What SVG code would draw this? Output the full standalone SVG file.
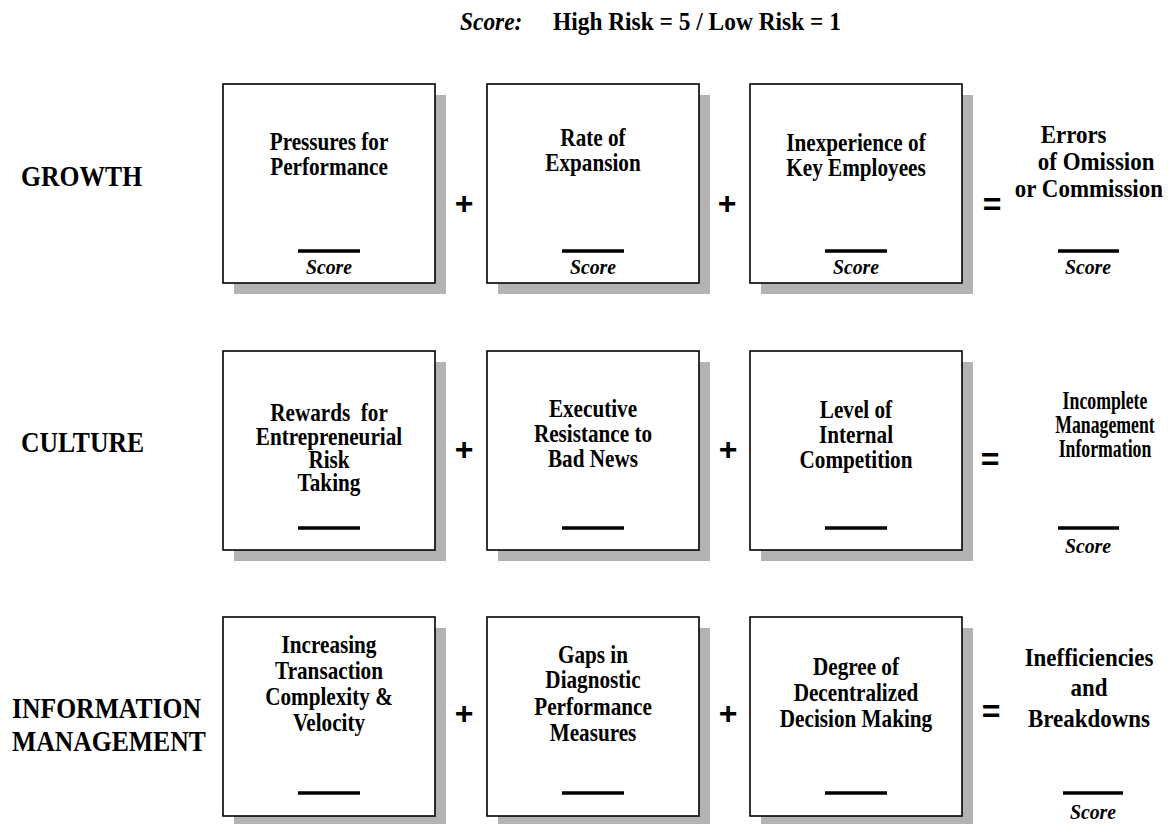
<svg xmlns="http://www.w3.org/2000/svg" width="1174" height="824" viewBox="0 0 1174 824">
  <style>
    .shadow { fill: #b3b3b3; }
    .box { fill: #ffffff; stroke: #000000; stroke-width: 1.6; }
    .rule { stroke: #000000; stroke-width: 3.5; }
    .t { font-family: "Liberation Serif", "Times New Roman", serif; font-weight: bold; fill: #000000; text-anchor: middle; }
    .hd { font-size: 26px; text-anchor: start; }
    .lab { font-size: 28.5px; text-anchor: start; }
    .bt { font-size: 24.5px; }
    .res { font-size: 25.5px; }
    .res2 { font-size: 25px; }
    .sc { font-size: 22px; font-style: italic; }
    .op { font-family: "Liberation Sans", Arial, sans-serif; font-weight: bold; fill: #000000; text-anchor: middle; font-size: 32px; }
  </style>

  <rect width="1174" height="824" fill="#ffffff"/>

  <!-- scale legend -->
  <g id="legend">
    <g transform="translate(460 0) scale(0.9 1)">
      <text class="t hd" x="0" y="30" font-style="italic">Score:</text>
    </g>
    <g transform="translate(553 0) scale(0.9 1)">
      <text class="t hd" x="0" y="30">High Risk = 5 / Low Risk = 1</text>
    </g>
  </g>

  <!-- row labels -->
  <g id="label-growth" transform="translate(21 0) scale(0.9 1)">
    <text class="t lab" x="0" y="186">GROWTH</text>
  </g>
  <g id="label-culture" transform="translate(21 0) scale(0.9 1)">
    <text class="t lab" x="0" y="452">CULTURE</text>
  </g>
  <g id="label-information" transform="translate(12 0) scale(0.9 1)">
    <text class="t lab" x="0" y="718">INFORMATION</text>
    <text class="t lab" x="0" y="751">MANAGEMENT</text>
  </g>

  <!-- ===== GROWTH row ===== -->
  <g id="growth-pressures">
    <rect class="shadow" x="234" y="95" width="212" height="199"/>
    <rect class="box" x="223" y="84" width="212" height="199"/>
    <line class="rule" x1="298" y1="251" x2="360" y2="251"/>
    <g transform="translate(329 0) scale(0.865 1)">
      <text class="t bt" x="0" y="150">Pressures for</text>
      <text class="t bt" x="0" y="175">Performance</text>
    </g>
    <g transform="translate(329 0) scale(0.9 1)">
      <text class="t sc" x="0" y="274">Score</text>
    </g>
  </g>
  <g id="growth-expansion">
    <rect class="shadow" x="498" y="95" width="212" height="199"/>
    <rect class="box" x="487" y="84" width="212" height="199"/>
    <line class="rule" x1="562" y1="251" x2="624" y2="251"/>
    <g transform="translate(593 0) scale(0.865 1)">
      <text class="t bt" x="0" y="146">Rate of</text>
      <text class="t bt" x="0" y="171">Expansion</text>
    </g>
    <g transform="translate(593 0) scale(0.9 1)">
      <text class="t sc" x="0" y="274">Score</text>
    </g>
  </g>
  <g id="growth-inexperience">
    <rect class="shadow" x="761" y="95" width="212" height="199"/>
    <rect class="box" x="750" y="84" width="212" height="199"/>
    <line class="rule" x1="825" y1="251" x2="887" y2="251"/>
    <g transform="translate(856 0) scale(0.865 1)">
      <text class="t bt" x="0" y="151">Inexperience of</text>
      <text class="t bt" x="0" y="176">Key Employees</text>
    </g>
    <g transform="translate(856 0) scale(0.9 1)">
      <text class="t sc" x="0" y="274">Score</text>
    </g>
  </g>
  <g id="growth-result">
    <line class="rule" x1="1058" y1="251" x2="1119" y2="251"/>
    <g transform="translate(1088 0) scale(0.9 1)">
      <text class="t res" x="-16" y="143">Errors</text>
      <text class="t res" x="9" y="170">of Omission</text>
      <text class="t res" x="1" y="197">or Commission</text>
      <text class="t sc" x="0" y="274">Score</text>
    </g>
  </g>

  <!-- ===== CULTURE row ===== -->
  <g id="culture-rewards">
    <rect class="shadow" x="234" y="362" width="212" height="199"/>
    <rect class="box" x="223" y="351" width="212" height="199"/>
    <line class="rule" x1="298" y1="528" x2="360" y2="528"/>
    <g transform="translate(329 0) scale(0.865 1)">
      <text class="t bt" x="0" y="421" xml:space="preserve">Rewards  for</text>
      <text class="t bt" x="0" y="445">Entrepreneurial</text>
      <text class="t bt" x="0" y="468">Risk</text>
      <text class="t bt" x="0" y="491">Taking</text>
    </g>
  </g>
  <g id="culture-resistance">
    <rect class="shadow" x="498" y="362" width="212" height="199"/>
    <rect class="box" x="487" y="351" width="212" height="199"/>
    <line class="rule" x1="562" y1="528" x2="624" y2="528"/>
    <g transform="translate(593 0) scale(0.865 1)">
      <text class="t bt" x="0" y="417">Executive</text>
      <text class="t bt" x="0" y="442">Resistance to</text>
      <text class="t bt" x="0" y="467">Bad News</text>
    </g>
  </g>
  <g id="culture-competition">
    <rect class="shadow" x="761" y="362" width="212" height="199"/>
    <rect class="box" x="750" y="351" width="212" height="199"/>
    <line class="rule" x1="825" y1="528" x2="887" y2="528"/>
    <g transform="translate(856 0) scale(0.865 1)">
      <text class="t bt" x="0" y="418">Level of</text>
      <text class="t bt" x="0" y="443">Internal</text>
      <text class="t bt" x="0" y="468">Competition</text>
    </g>
  </g>
  <g id="culture-result">
    <line class="rule" x1="1058" y1="528" x2="1119" y2="528"/>
    <g transform="translate(1105 0) scale(0.71 1)">
      <text class="t res2" x="0" y="409">Incomplete</text>
      <text class="t res2" x="0" y="433">Management</text>
      <text class="t res2" x="0" y="457">Information</text>
    </g>
    <g transform="translate(1088 0) scale(0.9 1)">
      <text class="t sc" x="0" y="553">Score</text>
    </g>
  </g>

  <!-- ===== INFORMATION MANAGEMENT row ===== -->
  <g id="info-complexity">
    <rect class="shadow" x="234" y="628" width="212" height="199"/>
    <rect class="box" x="223" y="617" width="212" height="199"/>
    <line class="rule" x1="298" y1="793" x2="360" y2="793"/>
    <g transform="translate(329 0) scale(0.865 1)">
      <text class="t bt" x="0" y="653">Increasing</text>
      <text class="t bt" x="0" y="679">Transaction</text>
      <text class="t bt" x="0" y="705">Complexity &amp;</text>
      <text class="t bt" x="0" y="731">Velocity</text>
    </g>
  </g>
  <g id="info-measures">
    <rect class="shadow" x="498" y="628" width="212" height="199"/>
    <rect class="box" x="487" y="617" width="212" height="199"/>
    <line class="rule" x1="562" y1="793" x2="624" y2="793"/>
    <g transform="translate(593 0) scale(0.865 1)">
      <text class="t bt" x="0" y="663">Gaps in</text>
      <text class="t bt" x="0" y="688">Diagnostic</text>
      <text class="t bt" x="0" y="715">Performance</text>
      <text class="t bt" x="0" y="741">Measures</text>
    </g>
  </g>
  <g id="info-decentralized">
    <rect class="shadow" x="761" y="628" width="212" height="199"/>
    <rect class="box" x="750" y="617" width="212" height="199"/>
    <line class="rule" x1="825" y1="793" x2="887" y2="793"/>
    <g transform="translate(856 0) scale(0.865 1)">
      <text class="t bt" x="0" y="675">Degree of</text>
      <text class="t bt" x="0" y="701">Decentralized</text>
      <text class="t bt" x="0" y="727">Decision Making</text>
    </g>
  </g>
  <g id="info-result">
    <line class="rule" x1="1063" y1="793" x2="1123" y2="793"/>
    <g transform="translate(1089 0) scale(0.9 1)">
      <text class="t res" x="0" y="666">Inefficiencies</text>
      <text class="t res" x="0" y="696">and</text>
      <text class="t res" x="0" y="727">Breakdowns</text>
    </g>
    <g transform="translate(1093 0) scale(0.9 1)">
      <text class="t sc" x="0" y="819">Score</text>
    </g>
  </g>

  <!-- operators between the factor boxes -->
  <g id="operators">
    <text class="op" x="464" y="214">+</text>
    <text class="op" x="727" y="214">+</text>
    <text class="op" x="992" y="215">=</text>
    <text class="op" x="464" y="460">+</text>
    <text class="op" x="728" y="460">+</text>
    <text class="op" x="990" y="470">=</text>
    <text class="op" x="464" y="724">+</text>
    <text class="op" x="728" y="724">+</text>
    <text class="op" x="991" y="722">=</text>
  </g>
</svg>
